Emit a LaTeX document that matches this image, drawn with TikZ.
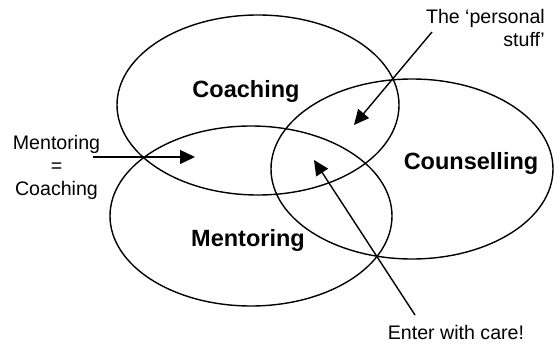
\documentclass[tikz,border=0pt]{standalone}
\usepackage{fontspec}
\setmainfont{Liberation Sans}
\usetikzlibrary{shapes.geometric,arrows.meta}
\tikzset{
  circ/.style={draw=black, line width=1.4pt, ellipse, minimum width=282pt, minimum height=180pt, inner sep=0pt},
  biglabel/.style={font=\fontsize{23.5}{28}\selectfont\bfseries, inner sep=0pt},
  smalllabel/.style={font=\fontsize{19.6}{23}\selectfont, inner sep=0pt},
  pointer/.style={draw=black, line width=1.4pt, -{Triangle[length=15pt,width=14pt]}}
}
\begin{document}
\begin{tikzpicture}[x=1pt,y=-1pt]
\useasboundingbox (0,0) rectangle (554,345);
\node[circ] (coach) at (258,105) {};
\node[circ] (couns) at (412,169) {};
\node[circ] (ment) at (251,216) {};
\node[biglabel] (coachlbl) at (246,91) {Coaching};
\node[biglabel] (counslbl) at (471,163) {Counselling};
\node[biglabel] (mentlbl) at (248,240) {Mentoring};
\node[smalllabel, align=center] (mc) at (56.5,167) {Mentoring\\=\\Coaching};
\node[smalllabel, align=right, anchor=east] (ps) at (545,28) {The ‘personal\\stuff’};
\node[smalllabel] (ewc) at (456,332) {Enter with care!};
\coordinate (mcstart) at (93,157);
\coordinate (mctip) at (195,157);
\coordinate (psstart) at (432,32);
\coordinate (pstip) at (354,125);
\coordinate (ewcstart) at (415,315);
\coordinate (ewctip) at (314,160);
\draw[pointer] (mcstart) -- (mctip);
\draw[pointer] (psstart) -- (pstip);
\draw[pointer] (ewcstart) -- (ewctip);
\end{tikzpicture}
\end{document}
